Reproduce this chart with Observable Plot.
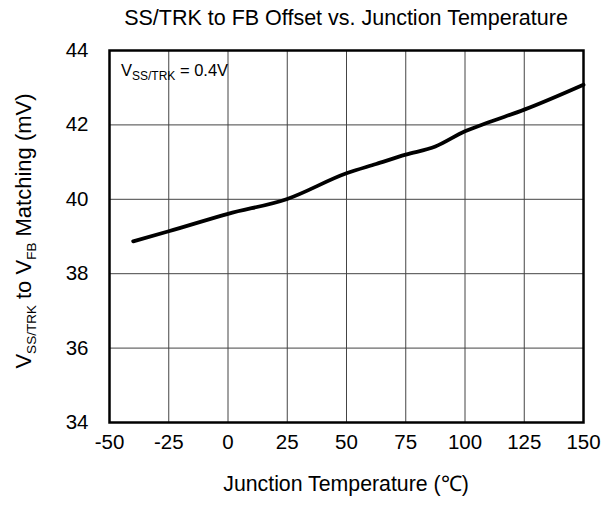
<!DOCTYPE html>
<html>
<head>
<meta charset="utf-8">
<script src="https://cdn.jsdelivr.net/npm/d3@7"></script>
<script src="https://cdn.jsdelivr.net/npm/@observablehq/plot@0.6"></script>
<style>
  body { margin: 0; background: #fff; }
  svg { font-family: "Liberation Sans", Arial, sans-serif; }
</style>
</head>
<body>
<div id="chart"></div>
<script>
const titleText = "SS/TRK to FB Offset vs. Junction Temperature";
const xLabelText = "Junction Temperature (\u2103)";
const xTicks = [-50, -25, 0, 25, 50, 75, 100, 125, 150];
const yTicks = [34, 36, 38, 40, 42, 44];
const temperature = [-40, -25, 0, 25, 50, 62.5, 75, 87.5, 100, 110, 125, 150];
const offset = [38.87, 39.14, 39.61, 40.01, 40.70, 40.95, 41.20, 41.42, 41.83, 42.07, 42.41, 43.08];

const data = temperature.map((t, i) => ({t, v: offset[i]}));

const chart = Plot.plot({
  width: 611,
  height: 510,
  marginLeft: 109,
  marginRight: 28,
  marginTop: 50,
  marginBottom: 88,
  style: {fontFamily: '"Liberation Sans", Arial, sans-serif', fontSize: "20.5px", color: "#000", background: "#fff"},
  x: {domain: [-50, 150], ticks: xTicks, tickSize: 0, tickPadding: 12, label: null, tickFormat: d => String(d)},
  y: {domain: [34, 44], ticks: yTicks, tickSize: 0, tickPadding: 21, label: null, tickFormat: d => String(d)},
  marks: [
    Plot.ruleX(xTicks.slice(1, -1), {stroke: "#444", strokeWidth: 1}),
    Plot.ruleY(yTicks.slice(1, -1), {stroke: "#444", strokeWidth: 1}),
    Plot.frame({stroke: "#000", strokeWidth: 2.5}),
    Plot.line(data, {x: "t", y: "v", stroke: "#000", strokeWidth: 3.8, curve: "monotone-x"})
  ]
});
document.getElementById("chart").appendChild(chart);

const svg = d3.select(chart);
svg.append("text")
  .attr("x", 346).attr("y", 25)
  .attr("text-anchor", "middle")
  .attr("font-size", 21.5)
  .attr("fill", "#000")
  .text(titleText);
svg.append("text")
  .attr("x", 346).attr("y", 491)
  .attr("text-anchor", "middle")
  .attr("font-size", 21.3)
  .attr("fill", "#000")
  .text(xLabelText);

// Texts with subscripts
const ylab = svg.append("text")
  .attr("transform", "translate(31,231) rotate(-90)")
  .attr("text-anchor", "middle")
  .attr("font-size", 22)
  .attr("fill", "#000");
ylab.append("tspan").text("V");
ylab.append("tspan").attr("font-size", 13.5).attr("dy", 5).text("SS/TRK");
ylab.append("tspan").attr("dy", -5).text(" to V");
ylab.append("tspan").attr("font-size", 13.5).attr("dy", 5).text("FB");
ylab.append("tspan").attr("dy", -5).text(" Matching (mV)");

const ann = svg.append("text")
  .attr("x", 121).attr("y", 76)
  .attr("text-anchor", "start")
  .attr("font-size", 16.5)
  .attr("fill", "#000");
ann.append("tspan").text("V");
ann.append("tspan").attr("font-size", 12).attr("dy", 4).text("SS/TRK");
ann.append("tspan").attr("dy", -4).text(" = 0.4V");
</script>
</body>
</html>
